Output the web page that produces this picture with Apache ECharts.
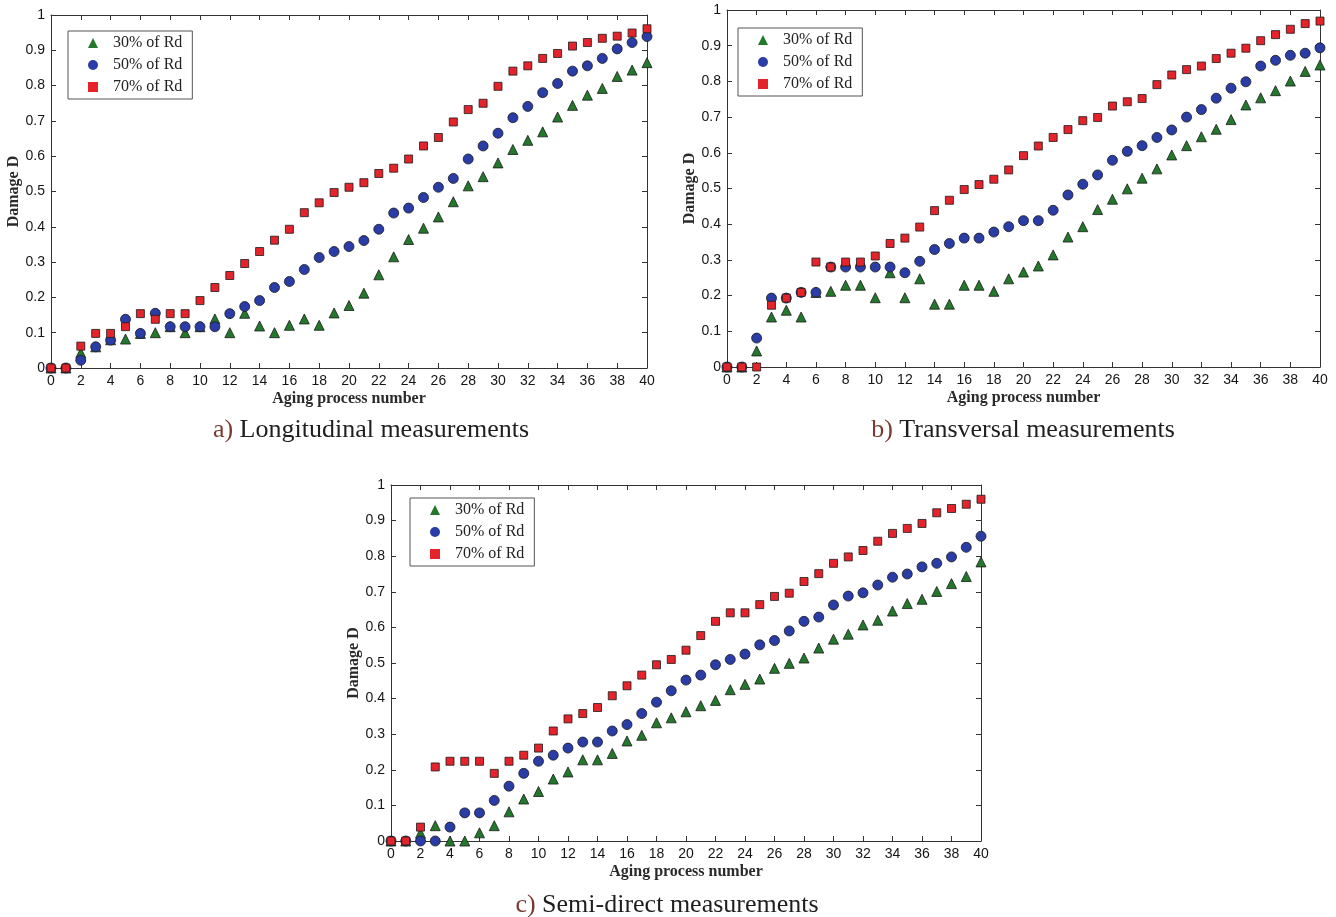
<!DOCTYPE html>
<html>
<head>
<meta charset="utf-8">
<script src="https://cdn.jsdelivr.net/npm/echarts@6/dist/echarts.min.js"></script>
<style>
  html, body { margin: 0; padding: 0; background: #ffffff; }
  #chart { width: 1336px; height: 917px; }
</style>
</head>
<body>
<div id="chart"></div>
<script>
// Aging process numbers (x axis)
const agingSteps = [0,1,2,3,4,5,6,7,8,9,10,11,12,13,14,15,16,17,18,19,20,21,22,23,24,25,26,27,28,29,30,31,32,33,34,35,36,37,38,39,40];

// Legend labels
const loadLevels = ['30% of Rd', '50% of Rd', '70% of Rd'];

// Axis titles
const xAxisTitle = 'Aging process number';
const yAxisTitle = 'Damage D';

// a) Longitudinal measurements – damage D per aging step
const longit30 = [0,0,0.043,0.06,0.08,0.082,0.098,0.10,0.117,0.10,0.117,0.139,0.10,0.155,0.119,0.10,0.121,0.139,0.121,0.156,
  0.177,0.212,0.264,0.315,0.364,0.396,0.428,0.471,0.516,0.542,0.581,0.619,0.645,0.669,0.711,0.744,0.773,0.792,0.826,0.844,0.865];
const longit50 = [0,0,0.022,0.06,0.079,0.138,0.098,0.155,0.117,0.117,0.117,0.117,0.154,0.174,0.191,0.228,0.245,0.279,0.313,0.330,
  0.344,0.361,0.393,0.439,0.453,0.483,0.512,0.537,0.592,0.629,0.665,0.709,0.741,0.780,0.806,0.841,0.856,0.877,0.904,0.922,0.939];
const longit70 = [0,0,0.062,0.098,0.098,0.117,0.154,0.138,0.154,0.154,0.191,0.228,0.262,0.296,0.330,0.362,0.393,0.440,0.468,0.497,
  0.512,0.525,0.551,0.566,0.592,0.629,0.653,0.697,0.732,0.750,0.798,0.841,0.856,0.877,0.891,0.912,0.922,0.934,0.940,0.949,0.961];

// b) Transversal measurements
const trans30 = [0,0,0.045,0.140,0.159,0.140,0.209,0.212,0.229,0.229,0.194,0.264,0.194,0.247,0.176,0.176,0.229,0.229,0.212,0.247,
  0.266,0.283,0.314,0.364,0.393,0.441,0.470,0.499,0.529,0.555,0.594,0.620,0.645,0.666,0.693,0.734,0.754,0.774,0.801,0.828,0.846];
const trans50 = [0,0,0.081,0.193,0.193,0.209,0.209,0.280,0.280,0.280,0.280,0.280,0.264,0.296,0.329,0.346,0.361,0.361,0.378,0.393,
  0.410,0.410,0.439,0.482,0.512,0.538,0.579,0.604,0.620,0.643,0.664,0.700,0.721,0.753,0.781,0.799,0.843,0.859,0.873,0.879,0.894];
const trans70 = [0,0,0,0.173,0.193,0.209,0.294,0.280,0.294,0.294,0.311,0.346,0.361,0.392,0.438,0.467,0.497,0.511,0.526,0.552,
  0.592,0.619,0.643,0.665,0.690,0.699,0.731,0.743,0.752,0.791,0.818,0.833,0.843,0.864,0.879,0.893,0.914,0.931,0.946,0.962,0.969];

// c) Semi-direct measurements
const semi30 = [0,0,0.022,0.043,0,0,0.023,0.043,0.082,0.118,0.139,0.174,0.194,0.228,0.228,0.246,0.281,0.297,0.332,0.346,
  0.363,0.380,0.395,0.425,0.440,0.455,0.485,0.499,0.514,0.542,0.567,0.581,0.607,0.620,0.646,0.667,0.679,0.701,0.723,0.743,0.784];
const semi50 = [0,0,0,0,0.039,0.079,0.079,0.114,0.154,0.190,0.224,0.241,0.261,0.278,0.278,0.309,0.327,0.358,0.390,0.422,
  0.452,0.466,0.495,0.510,0.525,0.551,0.563,0.590,0.617,0.629,0.663,0.688,0.697,0.719,0.741,0.750,0.770,0.780,0.798,0.825,0.856];
const semi70 = [0,0,0.039,0.208,0.224,0.224,0.224,0.190,0.224,0.241,0.261,0.309,0.343,0.358,0.375,0.408,0.436,0.466,0.495,0.510,
  0.536,0.577,0.617,0.641,0.641,0.664,0.687,0.696,0.729,0.751,0.780,0.798,0.816,0.842,0.864,0.878,0.892,0.922,0.934,0.946,0.960];

// Panel layout: plot area, legend box and caption for each measurement type
const panels = [
  { grid: { left: 51, top: 15, width: 596, height: 353 }, legend: { left: 68, top: 31 },
    tag: 'a)', caption: 'Longitudinal measurements', cx: 371, cy: 430, values: [longit30, longit50, longit70] },
  { grid: { left: 727, top: 10, width: 593, height: 357 }, legend: { left: 738, top: 28 },
    tag: 'b)', caption: 'Transversal measurements', cx: 1023, cy: 430, values: [trans30, trans50, trans70] },
  { grid: { left: 391, top: 485, width: 590, height: 356 }, legend: { left: 410, top: 498 },
    tag: 'c)', caption: 'Semi-direct measurements', cx: 667, cy: 905, values: [semi30, semi50, semi70] }
];

const markerStyles = [
  { symbol: 'triangle', size: 10, color: '#23782c' },
  { symbol: 'circle', size: 10, color: '#2a3ca6' },
  { symbol: 'rect', size: 8, color: '#e5232a' }
];

const serif = '"Liberation Serif", "DejaVu Serif", serif';
const sans = '"Liberation Sans", Arial, sans-serif';
const axisColor = '#333333';

const grids = [], xAxes = [], yAxes = [], series = [], legends = [], graphics = [];

panels.forEach((p, i) => {
  grids.push(Object.assign({ show: false, containLabel: false }, p.grid));

  // bottom axis with labels, top axis with ticks only (closed box)
  xAxes.push({
    type: 'value', gridIndex: i, min: 0, max: 40, interval: 2, position: 'bottom',
    name: xAxisTitle, nameLocation: 'middle', nameGap: 23,
    nameTextStyle: { fontFamily: serif, fontSize: 16, fontWeight: 'bold', color: '#2a2a2a' },
    axisLine: { show: true, onZero: false, lineStyle: { color: axisColor, width: 1 } },
    axisTick: { show: true, inside: true, length: 5, lineStyle: { color: axisColor } },
    axisLabel: { show: true, margin: 6, fontFamily: sans, fontSize: 14, color: '#151515' },
    splitLine: { show: false }
  });
  xAxes.push({
    type: 'value', gridIndex: i, min: 0, max: 40, interval: 2, position: 'top',
    axisLine: { show: true, onZero: false, lineStyle: { color: axisColor, width: 1 } },
    axisTick: { show: true, inside: true, length: 5, lineStyle: { color: axisColor } },
    axisLabel: { show: false }, splitLine: { show: false }
  });
  yAxes.push({
    type: 'value', gridIndex: i, min: 0, max: 1, interval: 0.1, position: 'left',
    name: yAxisTitle, nameLocation: 'middle', nameGap: 27, nameRotate: 90,
    nameTextStyle: { fontFamily: serif, fontSize: 16, fontWeight: 'bold', color: '#2a2a2a' },
    axisLine: { show: true, onZero: false, lineStyle: { color: axisColor, width: 1 } },
    axisTick: { show: true, inside: true, length: 5, lineStyle: { color: axisColor } },
    axisLabel: { show: true, margin: 6, fontFamily: sans, fontSize: 14, color: '#151515' },
    splitLine: { show: false }
  });
  yAxes.push({
    type: 'value', gridIndex: i, min: 0, max: 1, interval: 0.1, position: 'right',
    axisLine: { show: true, onZero: false, lineStyle: { color: axisColor, width: 1 } },
    axisTick: { show: true, inside: true, length: 5, lineStyle: { color: axisColor } },
    axisLabel: { show: false }, splitLine: { show: false }
  });

  p.values.forEach((vals, k) => {
    const m = markerStyles[k];
    series.push({
      type: 'scatter', name: loadLevels[k],
      xAxisIndex: 2 * i, yAxisIndex: 2 * i,
      symbol: m.symbol, symbolSize: m.size,
      itemStyle: { color: m.color, borderColor: '#1a1a1a', borderWidth: 0.8, opacity: 1 },
      emphasis: { disabled: true },
      z: 2 + k,
      data: agingSteps.map((s, j) => [s, vals[j]])
    });
  });

  legends.push({
    left: p.legend.left, top: p.legend.top, orient: 'vertical',
    data: loadLevels.map((name, k) => ({ name: name, icon: markerStyles[k].symbol })),
    selectedMode: false,
    backgroundColor: '#ffffff', borderColor: '#555', borderWidth: 1,
    padding: [4, 10, 4, 20], itemGap: 6, itemWidth: 10, itemHeight: 10,
    itemStyle: { borderWidth: 0 },
    textStyle: { fontFamily: serif, fontSize: 16, color: '#222', padding: [0, 0, 0, 10] }
  });

  graphics.push({
    type: 'text', x: p.cx, y: p.cy,
    style: {
      text: '{t|' + p.tag + '} ' + p.caption,
      align: 'center', verticalAlign: 'middle',
      font: '26px ' + serif, fill: '#1e1e1e',
      rich: { t: { fill: '#7a3a33', font: '26px ' + serif } }
    }
  });
});

const chart = echarts.init(document.getElementById('chart'), null, { renderer: 'canvas' });
chart.setOption({
  animation: false,
  backgroundColor: '#ffffff',
  grid: grids, xAxis: xAxes, yAxis: yAxes,
  legend: legends, series: series, graphic: graphics
});
</script>
</body>
</html>
